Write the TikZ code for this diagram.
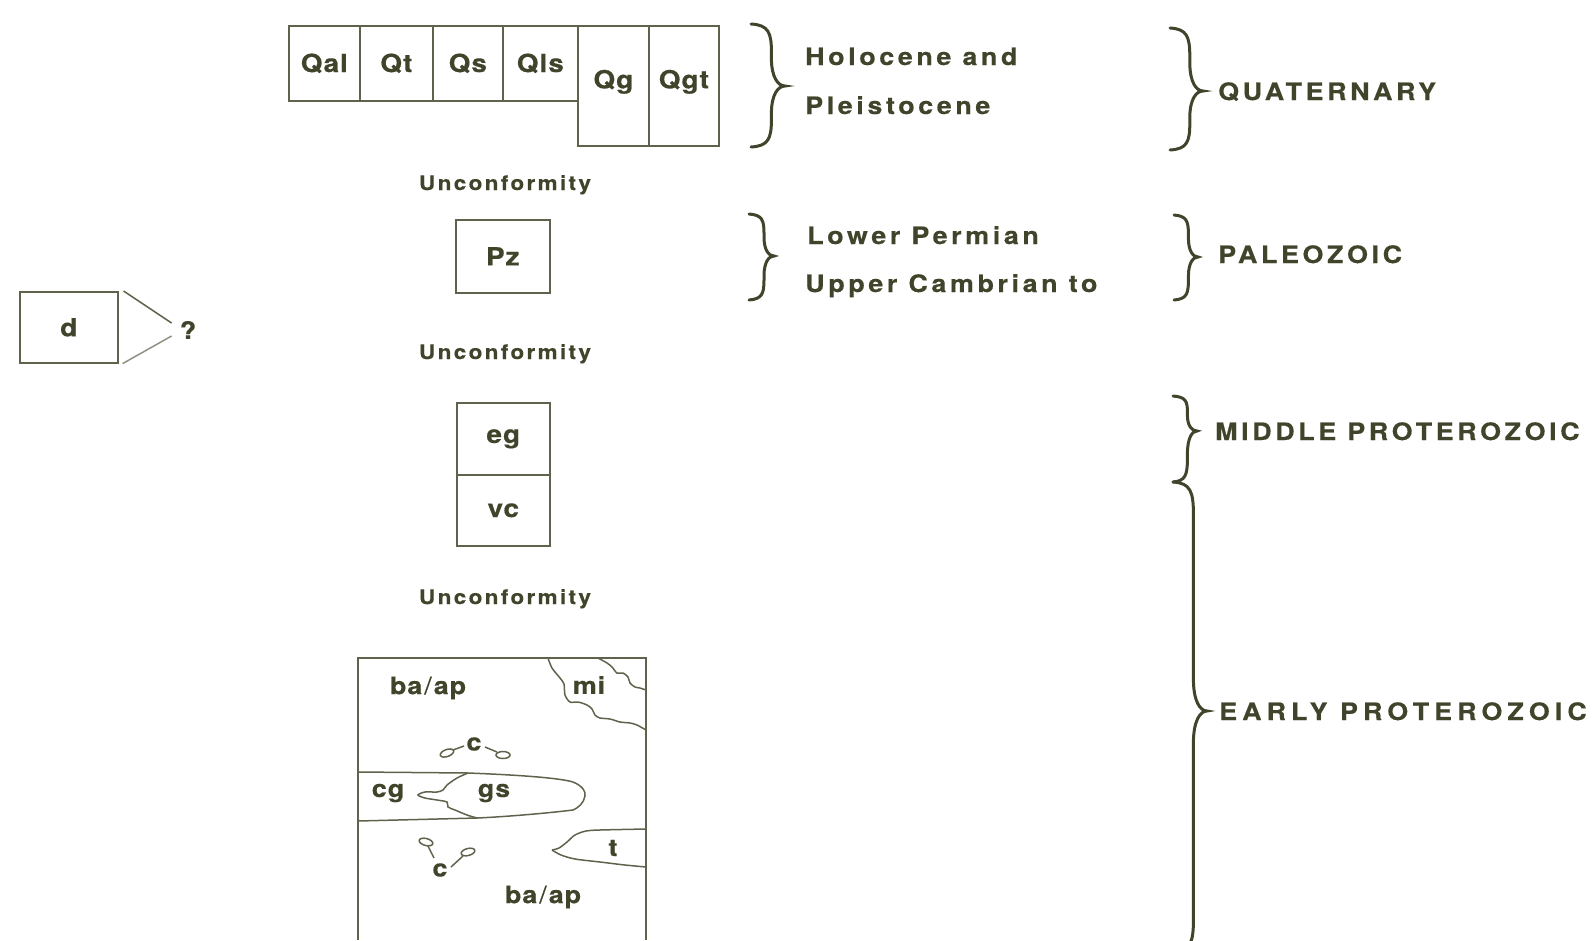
\documentclass[tikz,border=0pt]{standalone}
\usepackage{fontspec}
\setmainfont{TeX Gyre Heros}
\newfontfamily\boxfont{TeX Gyre Heros}[LetterSpace=4, FakeStretch=1.12, FakeBold=0.4]
\newfontfamily\agefont{TeX Gyre Heros}[LetterSpace=15, FakeStretch=1.12, FakeBold=0.4]
\newfontfamily\eonfont{TeX Gyre Heros}[LetterSpace=21, FakeStretch=1.12, FakeBold=0.4]
\newfontfamily\uncfont{TeX Gyre Heros}[LetterSpace=12, FakeStretch=1.12, FakeBold=0.4]
\definecolor{ink}{RGB}{64,68,42}
\definecolor{rule}{RGB}{96,98,76}
\tikzset{
  unitbox/.style={draw=rule, line width=1.6pt, inner sep=0pt, anchor=north west, text=ink,
    font=\boxfont\bfseries\fontsize{25}{30}\selectfont},
  agetext/.style={anchor=base west, text=ink, inner sep=0pt,
    font=\agefont\bfseries\fontsize{24}{28}\selectfont},
  eontext/.style={agetext, font=\eonfont\bfseries\fontsize{24}{28}\selectfont},
  unctext/.style={anchor=base, text=ink, inner sep=0pt,
    font=\uncfont\bfseries\fontsize{20}{24}\selectfont},
  maptext/.style={text=ink, inner sep=0pt, font=\boxfont\bfseries\fontsize{24}{28}\selectfont},
  contact/.style={draw=rule, line width=1.5pt},
  bracepen/.style={draw=ink, line width=3pt, line cap=round},
}
% brace: x ends, x tip, y top, y tip, y bottom
\newcommand{\geobrace}[5]{%
  \pgfmathsetmacro{\gbSpine}{#1+0.6*(#2-#1)}%
  \pgfmathsetmacro{\gbCurl}{#1+0.85*(\gbSpine-#1)}%
  \pgfmathsetmacro{\gbTop}{min(32,0.45*(#4-#3))}%
  \pgfmathsetmacro{\gbBot}{min(32,0.45*(#5-#4))}%
  \pgfmathsetmacro{\gbTip}{#2-0.5*(#2-\gbSpine)}%
  \draw[bracepen] (#1,#3) .. controls (\gbCurl,#3+1) and (\gbSpine,#3+0.3*\gbTop) .. (\gbSpine,#3+\gbTop)
    -- (\gbSpine,#4-\gbTop) .. controls (\gbSpine,#4-0.3*\gbTop) and (\gbTip,#4) .. (#2,#4)
    .. controls (\gbTip,#4) and (\gbSpine,#4+0.3*\gbBot) .. (\gbSpine,#4+\gbBot)
    -- (\gbSpine,#5-\gbBot) .. controls (\gbSpine,#5-0.3*\gbBot) and (\gbCurl,#5-1) .. (#1,#5);}
\begin{document}
\begin{tikzpicture}[x=1pt,y=-1pt]
\useasboundingbox (0,0) rectangle (1592,940);
% quaternary units
\node[unitbox, minimum width=71pt, minimum height=75pt] (qal) at (288,25) {Qal};
\node[unitbox, minimum width=73pt, minimum height=75pt] (qt) at (359,25) {Qt};
\node[unitbox, minimum width=70pt, minimum height=75pt] (qs) at (432,25) {Qs};
\node[unitbox, minimum width=75pt, minimum height=75pt] (qls) at (502,25) {Qls};
\node[unitbox, minimum width=71pt, minimum height=120pt] (qg) at (577,25) {};
\node[unitbox, minimum width=70pt, minimum height=120pt] (qgt) at (648,25) {};
\node[maptext, font=\boxfont\bfseries\fontsize{25}{30}\selectfont, yshift=4pt] at (qg.center) {Qg};
\node[maptext, font=\boxfont\bfseries\fontsize{25}{30}\selectfont, yshift=4pt] at (qgt.center) {Qgt};
\node[unctext] (unc1) at (505,190) {Unconformity};
\node[unitbox, minimum width=94pt, minimum height=73pt] (pz) at (455,219) {Pz};
\node[unctext] (unc2) at (505,359) {Unconformity};
\node[unitbox, minimum width=93pt, minimum height=72pt] (eg) at (456,402) {eg};
\node[unitbox, minimum width=93pt, minimum height=71pt] (vc) at (456,474) {vc};
\node[unctext] (unc3) at (505,604) {Unconformity};
% dike
\node[unitbox, minimum width=98pt, minimum height=71pt] (d) at (19,291) {d};
\node[maptext] (quest) at (188,330) {?};
\draw[contact] ([xshift=5pt]d.north east) -- ([shift={(-8,-7)}]quest.west);
\draw[contact, draw=rule!70] ([xshift=4pt]d.south east) -- ([shift={(-8,6)}]quest.west);
% ages
\geobrace{751}{785}{24}{86}{147}
\geobrace{749}{774}{214}{256}{300}
\node[agetext] (holo) at (805,65) {Holocene and};
\node[agetext] (pleis) at (805,114) {Pleistocene};
\node[agetext] (lowperm) at (807,244) {Lower Permian};
\node[agetext] (upcamb) at (805,292) {Upper Cambrian to};
\geobrace{1170}{1203}{28}{91}{150}
\geobrace{1174}{1198}{215}{257}{300}
\geobrace{1173}{1197}{396}{431}{482}
\geobrace{1173}{1207}{482}{711}{952}
\node[agetext] (quat) at (1218,100) {QUATERNARY};
\node[agetext] (paleo) at (1218,263) {PALEOZOIC};
\node[agetext] (midpro) at (1215,440) {MIDDLE PROTEROZOIC};
\node[eontext] (earlypro) at (1219,720) {EARLY PROTEROZOIC};
% early proterozoic block
\draw[contact] (358,940) -- (358,658) -- (646,658) -- (646,940);
\draw[contact] plot[smooth] coordinates {(548,658) (552,668) (560,678) (564,684) (565,695)
  (570,702) (578,702) (587,705) (592,709) (595,715) (600,718) (610,719) (620,722)
  (630,723) (637,725) (646,730)};
\draw[contact] plot[smooth] coordinates {(598,658) (607,663) (612,667) (617,673) (623,673)
  (628,677) (630,683) (635,687) (640,688) (646,690)};
\draw[contact] (358,772) -- (468,773) .. controls (520,775) and (560,778) .. (573,782)
  .. controls (583,786) and (586,792) .. (585,796) .. controls (584,803) and (578,808) .. (573,810)
  .. controls (540,814) and (500,817) .. (477,818) -- (358,821);
\draw[contact] plot[smooth] coordinates {(468,773) (457,778) (447,785) (443,790) (437,792)
  (425,792) (418,795) (425,798) (437,800) (447,802) (448,807) (455,810) (467,815) (477,818)};
\draw[contact] plot[smooth] coordinates {(646,829) (600,830) (586,831) (575,835) (567,842)
  (559,848) (552,850)};
\draw[contact] plot[smooth] coordinates {(552,850) (561,855) (575,859) (600,862) (625,865) (646,867)};
% clasts
\draw[contact] (447,753) ellipse [x radius=7pt, y radius=3.5pt, rotate=20];
\draw[contact] (453,750) -- (464,746);
\draw[contact] (503,755) ellipse [x radius=7pt, y radius=3.5pt];
\draw[contact] (485,747) -- (497,752);
\draw[contact] (426,842) ellipse [x radius=7pt, y radius=3.5pt, rotate=-15];
\draw[contact] (428,846) -- (434,858);
\draw[contact] (468,852) ellipse [x radius=7pt, y radius=3.5pt, rotate=15];
\draw[contact] (451,867) -- (463,856);
\node[maptext] (baap1) at (428,688) {ba{\mdseries\kern2pt/\kern2pt}ap};
\node[maptext] (mi) at (589,685) {mi};
\node[maptext] (c1) at (474,744) {c};
\node[maptext] (cg) at (388,793) {cg};
\node[maptext] (gs) at (494,793) {gs};
\node[maptext] (t) at (613,848) {t};
\node[maptext] (c2) at (440,870) {c};
\node[maptext] (baap2) at (543,897) {ba{\mdseries\kern2pt/\kern2pt}ap};
\end{tikzpicture}
\end{document}
